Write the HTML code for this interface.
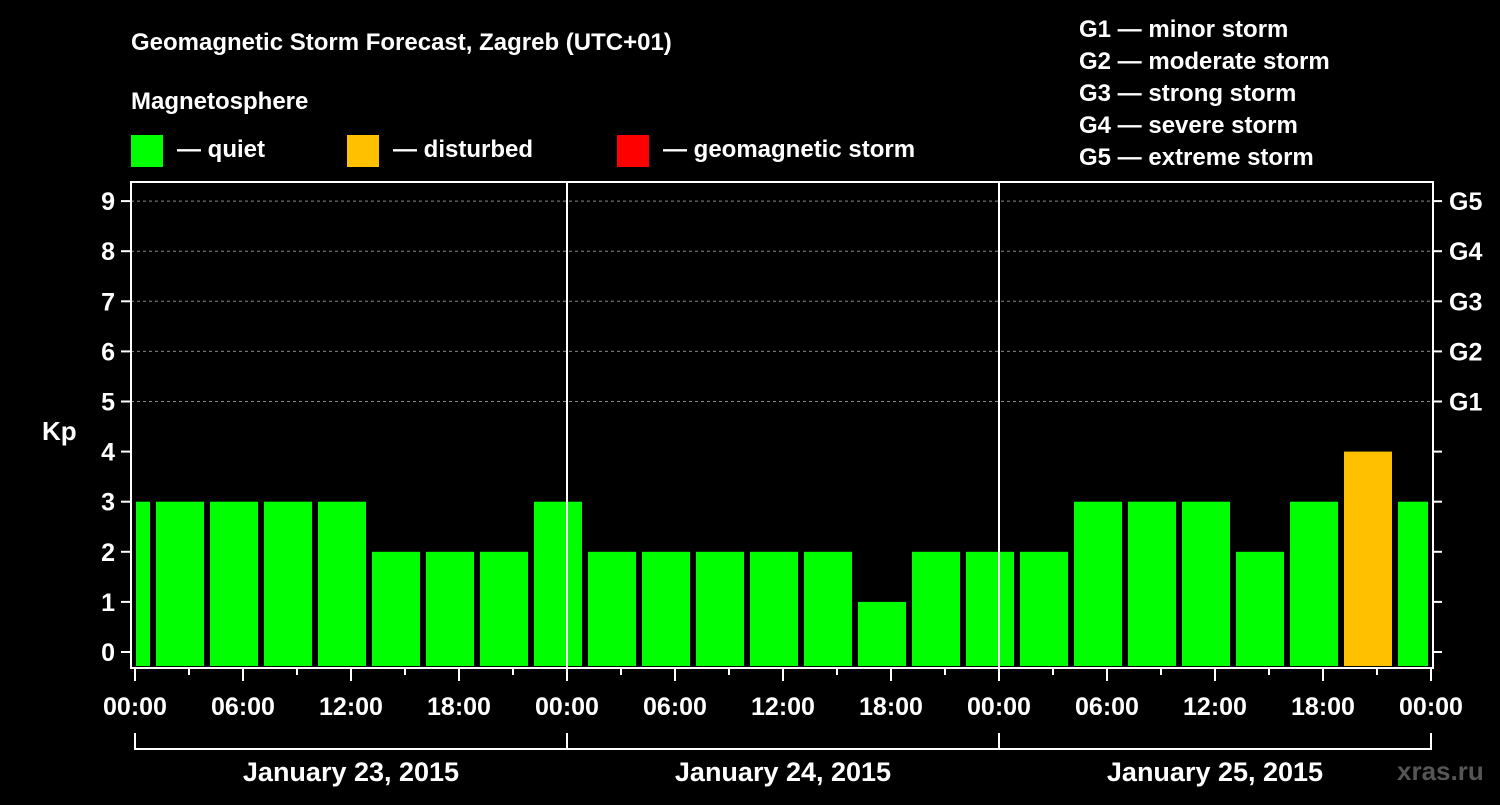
<!DOCTYPE html>
<html><head><meta charset="utf-8"><style>
body{margin:0;background:#000;width:1500px;height:800px;overflow:hidden}
svg text{font-family:"Liberation Sans",sans-serif;font-weight:bold;fill:#fff}
</style></head><body>
<svg id="c" width="1500" height="800">
<text x="131" y="50" font-size="24">Geomagnetic Storm Forecast, Zagreb (UTC+01)</text>
<text x="131" y="109" font-size="24">Magnetosphere</text>
<rect x="131" y="135" width="32" height="32" fill="#00ff00"/>
<text x="177" y="157" font-size="24">— quiet</text>
<rect x="347" y="135" width="32" height="32" fill="#ffc000"/>
<text x="393" y="157" font-size="24">— disturbed</text>
<rect x="617" y="135" width="32" height="32" fill="#ff0000"/>
<text x="663" y="157" font-size="24">— geomagnetic storm</text>
<g font-size="24">
<text x="1079" y="37">G1 — minor storm</text>
<text x="1079" y="69">G2 — moderate storm</text>
<text x="1079" y="101">G3 — strong storm</text>
<text x="1079" y="133">G4 — severe storm</text>
<text x="1079" y="165">G5 — extreme storm</text>
</g>
<text x="42" y="440" font-size="26">Kp</text>
<text x="1397" y="780" font-size="26" fill="#555" style="fill:#555">xras.ru</text>
<g id="plot"></g>
</svg>
<script>
const kpValues=[3,3,3,3,3,2,2,2,3,2,2,2,2,2,1,2,2,2,3,3,3,2,3,4,3];
const startHours=[-2,1,4,7,10,13,16,19,22,25,28,31,34,37,40,43,46,49,52,55,58,61,64,67,70];
const yTicks=[0,1,2,3,4,5,6,7,8,9];
const gLabels=["","","","","","G1","G2","G3","G4","G5"];
const xLabels=["00:00","06:00","12:00","18:00","00:00","06:00","12:00","18:00","00:00","06:00","12:00","18:00","00:00"];
const dayLabels=["January 23, 2015","January 24, 2015","January 25, 2015"];
const X=h=>135+h*18, Y=v=>652-v*50.1;
const L=131,R=1433,T=182,B=668;
const g=document.getElementById('plot'),NS='http://www.w3.org/2000/svg';
function mk(t,a,p){const e=document.createElementNS(NS,t);for(const k in a)e.setAttribute(k,a[k]);(p||g).appendChild(e);return e;}
yTicks.forEach((v,i)=>{
 if(v>=5){const l=mk('line',{x1:L,x2:R,y1:Y(v),y2:Y(v),stroke:'#888','stroke-dasharray':'3,3','stroke-width':1});
 
 }
 const t1=mk('line',{x1:121,x2:L,y1:Y(v),y2:Y(v),stroke:'#fff','stroke-width':2});
 
 
 mk('line',{x1:R,x2:1442,y1:Y(v),y2:Y(v),stroke:'#fff','stroke-width':2});
 const tx=mk('text',{x:115,y:Y(v)+9,'font-size':25,'text-anchor':'end'});tx.textContent=v;
 
 
 if(gLabels[i]){const gt=mk('text',{x:1449,y:Y(v)+9,'font-size':25});gt.textContent=gLabels[i];
 
 }
});
kpValues.forEach((v,i)=>{
 let x0=Math.max(X(startHours[i])+3,L+5), x1=Math.min(X(startHours[i]+3)-3,R-5);
 const col=v>=5?'#ff0000':v>=4?'#ffc000':'#00ff00';
 const r=mk('rect',{x:x0,y:Y(v),width:x1-x0,height:B-2-Y(v),fill:col});
 
 
});
[1,2].forEach(d=>{const l=mk('line',{x1:X(24*d),x2:X(24*d),y1:T,y2:B,stroke:'#fff','stroke-width':2});
 
 });
const fr=mk('rect',{x:L,y:T,width:R-L,height:B-T,fill:'none',stroke:'#fff','stroke-width':2});


for(let h=0;h<=72;h+=3){mk('line',{x1:X(h),x2:X(h),y1:B,y2:B+(h%6?7:13),stroke:'#fff','stroke-width':2});}
xLabels.forEach((s,i)=>{const t=mk('text',{x:X(i*6),y:715,'font-size':25,'text-anchor':'middle'});t.textContent=s;
 
 });
dayLabels.forEach((s,d)=>{
 const p=mk('path',{d:`M${X(24*d)},733V749H${X(24*d+24)}V733`,fill:'none',stroke:'#fff','stroke-width':2});
 
 
 const t=mk('text',{x:X(24*d+12),y:781,'font-size':27,'text-anchor':'middle'});t.textContent=s;
 
 });
</script>
</body></html>
